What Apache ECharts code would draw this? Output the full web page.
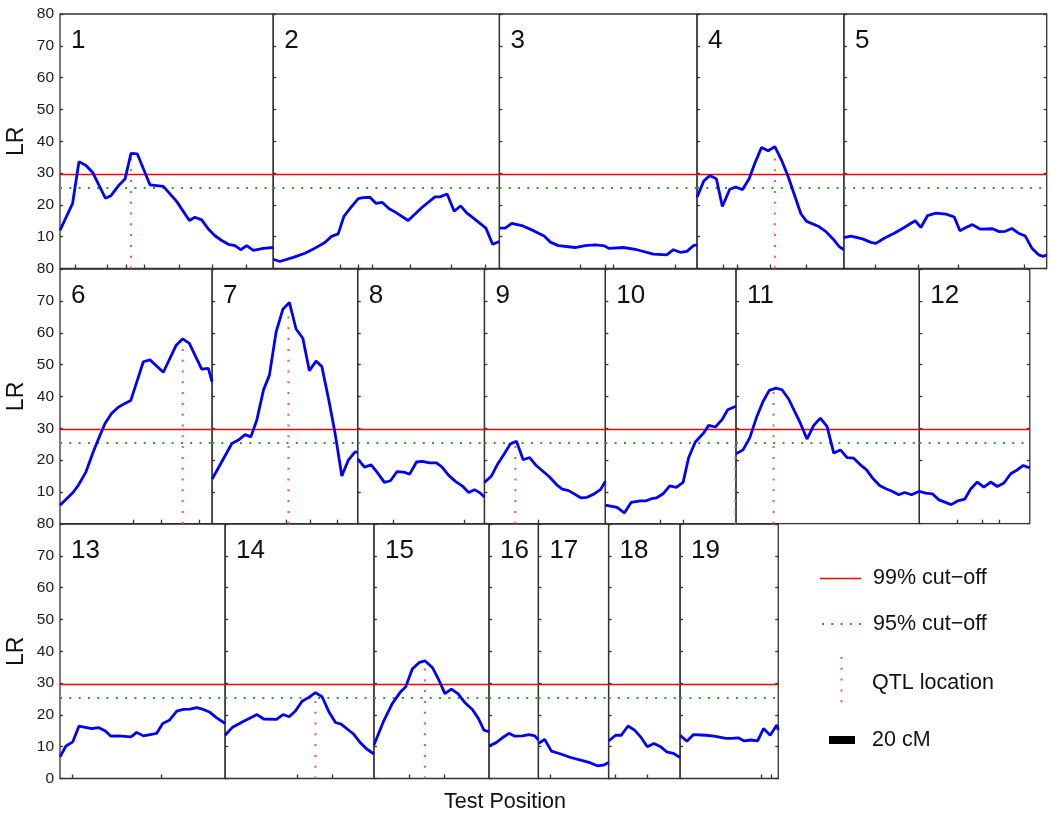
<!DOCTYPE html>
<html><head><meta charset="utf-8">
<script src="https://cdn.jsdelivr.net/npm/echarts@6/dist/echarts.min.js"></script>
<style>html,body{margin:0;padding:0;background:#fff}#c{width:1050px;height:819px}</style>
</head><body><div id="c"></div>
<script>
// ---------------- DATA ----------------
const chromNames = ['1','2','3','4','5','6','7','8','9','10','11','12','13','14','15','16','17','18','19'];
const chromLen = [164,174,152,113,156, 117,112,97.5,93,100.5,141,85, 127,114.5,88.5,38,54,55,75.5]; // cM
const rowChroms = [[0,1,2,3,4],[5,6,7,8,9,10,11],[12,13,14,15,16,17,18]];

const lr1 = [[0,12],[9.7,20.5],[14.6,33.6],[20,32.4],[25.1,30.2],[34.9,22.1],[39.2,22.9],[44.9,26],[50,28.1],[54.6,36.2],[59.5,36],[69.2,26.3],[79.5,25.8],[89.7,21.1],[99.5,15.1],[103.8,16.1],[109,15.3],[114.1,12.4],[119.2,10.3],[124.4,8.8],[129.5,7.6],[134.6,7.2],[139,5.9],[143.6,7.2],[148.7,5.7],[156.4,6.3],[164,6.6]];
const lr2 = [[0,2.9],[5.1,2.2],[15.4,3.5],[24.4,4.8],[32.1,6.4],[39.8,8.2],[44.9,10.1],[50,10.9],[54.4,16.4],[59,18.8],[65.4,22],[69.2,22.3],[74.4,22.4],[79,20.5],[83.8,20.8],[89.2,18.8],[93.6,17.8],[103.8,15.1],[114.2,19.1],[124.4,22.5],[128.2,22.5],[133.8,23.4],[139.2,18],[144.2,19.7],[148.8,17.5],[153.8,15.9],[163.6,12.7],[168.8,7.6],[174,8.5]];
const lr3 = [[0,12.7],[4.4,12.7],[9.5,14.2],[17.2,13.5],[26.2,11.9],[34.4,10.2],[39.5,8.2],[45.4,7.2],[58.2,6.6],[65.9,7.2],[73.6,7.4],[80,7.2],[84.6,6.3],[95.4,6.6],[105.7,5.9],[118.5,4.5],[128.7,4.3],[133.8,5.9],[139,5.1],[144.2,5.4],[149.3,7.2],[152,7.4]];
const lr4 = [[0,22.4],[5.2,27.5],[9.8,29.2],[14.9,28.2],[19.5,19.5],[25.2,24.9],[29.8,25.6],[35,24.8],[40.1,28.2],[44.5,33.1],[49.6,38],[54.7,37],[59.9,38.3],[65,34.1],[70.1,28.9],[79.9,17.2],[84.3,14.8],[93.2,13.3],[99.2,11.6],[104.8,9.2],[109.4,6.9],[113,5.9]];
const lr5 = [[0,9.7],[5.4,10.2],[14.3,9.3],[20.8,8.2],[24.6,7.9],[31,9.5],[38.7,11.1],[46.4,12.9],[54.8,15],[59.2,12.9],[64.3,16.6],[70.8,17.4],[78.5,17.1],[84.9,16.2],[89.2,11.9],[93.8,12.9],[98.9,13.8],[104.6,12.4],[114.3,12.5],[119.5,11.6],[124.1,11.7],[129.2,12.6],[134.3,11.1],[139.5,10.2],[144.6,6.4],[149.8,4.3],[153.4,3.8],[156,4.3]];
const lr6 = [[0,5.8],[9.8,9.7],[14.1,12.1],[20,16.3],[25.6,22.6],[30.8,27.8],[34.6,31.5],[39.8,34.7],[44.8,36.6],[49.2,37.6],[54.4,38.7],[64.1,50.9],[69.2,51.5],[79.5,47.6],[89.2,56],[94.4,58.1],[99.5,56.7],[109,48.6],[114.1,48.8],[117,44.6]];
const lr7 = [[0,14],[4.8,17.5],[15.2,25.2],[20.2,26.3],[25.4,28],[29.8,27.3],[34.4,32.6],[39.5,42],[44.1,46.7],[49.2,60.2],[54.4,67.4],[59.5,69.5],[64.6,61.2],[69.8,58.3],[74.8,48.1],[80,51.1],[84.4,49.4],[89.5,39.4],[94.6,28.4],[99.8,15],[104.8,20],[110,22.6],[112,22.4]];
const lr8 = [[0,20.4],[5.2,17.8],[10.3,18.5],[14.9,16.2],[20.5,13],[25.2,13.5],[30.3,16.4],[35.4,16.2],[40,15.6],[45.2,19.4],[49.6,19.6],[55.4,19.1],[60.6,19.1],[64.9,17.8],[70,15.2],[75.2,13.3],[80.3,11.9],[85.4,9.8],[89.8,10.7],[94.4,9.6],[97.5,8.4]];
const lr9 = [[0,13],[5.2,14.9],[10.2,18.8],[14.8,21.7],[20,25.1],[24.6,25.9],[29.8,20.1],[34.8,20.8],[40,18.2],[49.5,14.9],[55.4,12.3],[59.8,10.9],[64.8,10.4],[74.4,8.1],[79,8.3],[84.1,9.3],[89.2,10.7],[93,13.3]];
const lr10 = [[0,5.8],[9,5.1],[14.6,3.4],[19.8,6.7],[26.9,7.2],[31.5,7.2],[35.9,7.9],[39.2,8.1],[44.4,9.4],[49.5,11.9],[54.6,11.4],[59.8,13],[64.1,20.8],[69.2,25.7],[75.6,28.5],[79.5,30.9],[84.6,30.4],[89.8,32.7],[94.1,35.8],[100.5,36.9]];
const lr11 = [[0,22],[5.4,23.2],[10.5,26.9],[15.6,33.2],[20.8,38.4],[25.6,41.9],[30.8,42.6],[35.4,42.1],[40.5,39.2],[49.5,31.6],[54.6,26.6],[59.8,30.9],[64.9,33.2],[70,30.6],[75.2,22.2],[80.3,23.2],[85.4,20.8],[90.5,20.6],[95.7,18.5],[100.3,17],[105.5,14.1],[110.5,12],[115.7,10.9],[120.1,10.2],[125.2,9.1],[129.8,9.8],[135,9.1],[141,10.2]];
const lr12 = [[0,10.2],[4.8,9.6],[10,9.4],[15.1,7.5],[24.6,6],[29.7,7.2],[34.9,7.7],[39.5,10.9],[44.6,13.1],[49.7,11.5],[54.9,13.1],[60,11.7],[65.1,12.8],[70.3,15.7],[74.9,16.8],[80,18.3],[85,17.5]];
const lr13 = [[0,6.8],[4.6,10.2],[9.8,11.5],[14.6,16.5],[24.4,15.7],[29.5,16],[34.6,15],[39.2,13.3],[44.8,13.4],[54.6,13.1],[59,14.5],[64.1,13.4],[74.4,14.2],[79,17.3],[84.1,18.3],[89.8,21.2],[94.8,21.7],[100,21.8],[105.2,22.3],[110.2,21.7],[115.4,20.8],[120,19.2],[127,17.3]];
const lr14 = [[0,13.6],[5.4,16],[14.3,18],[24.6,20.1],[29.7,18.7],[39.5,18.6],[44.6,20.1],[49.3,19.4],[54.1,21.2],[59.2,24.3],[64.4,25.5],[69.5,27],[74.6,25.7],[79.8,21],[84.9,17.6],[89.3,17.1],[94.4,15.4],[99,13.9],[104.1,11.2],[109.2,9.2],[114.5,7.7]];
const lr15 = [[0,10.5],[7.7,18.3],[14.2,23.6],[20,27],[24.4,28.8],[29.5,34.4],[34.6,36.4],[39.2,37],[44.9,34.9],[50,30.9],[54.6,26.7],[59.5,28.1],[64.6,26.7],[69.8,23.9],[75.7,21.7],[80.3,18.9],[84.6,15.2],[88.5,14.7]];
const lr16 = [[0,10.2],[5.2,11.2],[10.3,12.8],[15.4,14.2],[19.8,13.3],[25.7,13.4],[30.8,13.8],[35.2,13.4],[38,12.1]];
const lr17 = [[0,11],[4.8,12.3],[10,8.6],[17.2,7.7],[24.8,6.6],[32.5,5.8],[40.2,4.9],[45.3,4],[49.9,4.2],[54,5]];
const lr18 = [[0,11.8],[5.4,13.6],[9.8,13.6],[14.9,16.5],[20,15.2],[24.6,13.1],[29.8,10],[34.9,11],[40,10],[44.6,8.4],[49.8,7.9],[55,6.6]];
const lr19 = [[0,13.6],[5.2,11.7],[10.3,13.8],[19.8,13.6],[26.2,13.3],[35.2,12.6],[39.6,12.6],[44.7,12.8],[49.3,11.8],[54.5,12.1],[59.6,11.8],[64.2,15.7],[69.3,13.6],[74.4,16.8],[75.5,15.2]];
const lrData = [lr1,lr2,lr3,lr4,lr5,lr6,lr7,lr8,lr9,lr10,lr11,lr12,lr13,lr14,lr15,lr16,lr17,lr18,lr19];

// marker positions (ticks on the bottom of each panel), cM
const markerPos = [
  [11.5,36.4,51.3,64.6,91.5,116.9,143.6],[51.3,65.4,76.5,105.2,137.2,162.8],[62.1,81.3,87.2,135.2],[20,30.8,56.7,84.2],[23.8,57.2,88.2,138.7],
  [56.4,77.5,107.2],[57.4,75.4,95.9],[27.7,82.1],[41.1],[42.3,60.3],[],[29.2,48.5,61.3],
  [9.7,78.2],[55.4,82.3],[26.9,54.4],[],[8.9],[5.4,29.8],[62.1,70.3]
];

const qtlChrom  = [1, 4, 6, 7, 9, 10, 11, 14, 15];
const qtlPos    = [54.6, 59.9, 94.4, 58.7, 23.8, 100, 28.9, 69.5, 39.2];
const qtlHeight = [36, 37.5, 57, 68, 25.5, 27, 42, 27, 37];

const cut99 = 29.7, cut95 = 25.5;
const yMin = 0, yMax = 80, yStep = 10;
const legendLabels = ['99% cut\u2212off', '95% cut\u2212off', 'QTL location', '20 cM'];
const scaleBarCM = 20;
const xTitle = 'Test Position', yTitle = 'LR';

// ---------------- LAYOUT ----------------
const PX = 1.3, X0 = 60, ROW_TOP = [14, 269.2, 524], ROW_H = 254.5;
const FONT = 'Liberation Sans, Arial, Helvetica, sans-serif';
const BLUE = '#0000ff', RED = '#ff0000', GREEN = '#2e9e2e', QRED = '#ff5050', AX = '#333';

const grid = [], xAxis = [], yAxis = [], series = [], title = [];
rowChroms.forEach((row, r) => {
  let cum = 0;
  row.forEach((ci, k) => {
    const left = X0 + cum * PX, width = chromLen[ci] * PX;
    cum += chromLen[ci];
    grid.push({ left, top: ROW_TOP[r], width, height: ROW_H, show: true, borderColor: AX, borderWidth: 1.3, backgroundColor: 'transparent' });
    const gi = grid.length - 1;
    title.push({ text: chromNames[ci], left: left + 6, top: ROW_TOP[r] + 9, textStyle: { fontFamily: FONT, fontSize: 26, fontWeight: 'normal', color: '#111' } });
    xAxis.push({
      type: 'value', gridIndex: gi, min: 0, max: chromLen[ci],
      axisLine: { show: false }, splitLine: { show: false }, axisLabel: { show: false },
      axisTick: { show: markerPos[ci].length > 0, inside: true, length: 4, customValues: markerPos[ci], lineStyle: { color: AX, width: 1.3 } }
    });
    yAxis.push({
      type: 'value', gridIndex: gi, min: yMin, max: yMax, interval: yStep, position: 'left',
      axisLine: { show: false }, splitLine: { show: false },
      axisTick: { show: true, inside: true, length: 3, lineStyle: { color: AX, width: 1.3 } },
      axisLabel: { show: k === 0, showMinLabel: r === 2, margin: 6, fontSize: 15.5, fontFamily: FONT, color: '#1a1a1a' },
      name: k === 0 ? yTitle : '', nameLocation: 'middle', nameGap: 32, nameRotate: 90,
      nameTextStyle: { fontSize: 23, fontFamily: FONT, color: '#111' }
    });
    const yi = yAxis.length - 1;
    if (k === row.length - 1) {
      yAxis.push({
        type: 'value', gridIndex: gi, min: yMin, max: yMax, interval: yStep, position: 'right',
        axisLine: { show: false }, splitLine: { show: false }, axisLabel: { show: false },
        axisTick: { show: true, inside: true, length: 3, lineStyle: { color: AX, width: 1.3 } }
      });
    }
    series.push({
      type: 'line', xAxisIndex: gi, yAxisIndex: yi, data: lrData[ci], showSymbol: false, silent: true,
      lineStyle: { color: BLUE, width: 2.8 }, z: 4,
      markLine: {
        silent: true, symbol: 'none', label: { show: false }, animation: false, z: 3,
        data: [
          { yAxis: cut99, lineStyle: { color: RED, width: 1.4, type: 'solid' } },
          { yAxis: cut95, lineStyle: { color: GREEN, width: 2, type: [2, 7.3] } }
        ]
      }
    });
    const qi = qtlChrom.indexOf(ci + 1);
    if (qi >= 0) {
      series.push({
        type: 'line', xAxisIndex: gi, yAxisIndex: yi, showSymbol: false, silent: true, z: 3,
        data: [[qtlPos[qi], 0], [qtlPos[qi], qtlHeight[qi]]],
        lineStyle: { color: QRED, width: 2, type: [2, 8.8] }
      });
    }
  });
});

// legend drawn as graphics
const LX = 820, LT = 873;
const graphic = [
  { type: 'line', shape: { x1: LX, y1: 578.5, x2: LX + 41, y2: 578.5 }, style: { stroke: RED, lineWidth: 1.4 } },
  { type: 'line', shape: { x1: LX + 2, y1: 624, x2: LX + 44, y2: 624 }, style: { stroke: GREEN, lineWidth: 2, lineDash: [2, 7.3] } },
  { type: 'line', shape: { x1: 841.5, y1: 657, x2: 841.5, y2: 704 }, style: { stroke: QRED, lineWidth: 2, lineDash: [2, 8.8] } },
  { type: 'rect', shape: { x: 829, y: 736, width: scaleBarCM * PX, height: 8 }, style: { fill: '#000' } },
  { type: 'text', x: LT, y: 578, style: { text: legendLabels[0], font: '21.5px ' + FONT, fill: '#111', textVerticalAlign: 'middle' } },
  { type: 'text', x: LT, y: 624, style: { text: legendLabels[1], font: '21.5px ' + FONT, fill: '#111', textVerticalAlign: 'middle' } },
  { type: 'text', x: LT - 1, y: 683, style: { text: legendLabels[2], font: '21.5px ' + FONT, fill: '#111', textVerticalAlign: 'middle' } },
  { type: 'text', x: LT - 1, y: 740, style: { text: legendLabels[3], font: '21.5px ' + FONT, fill: '#111', textVerticalAlign: 'middle' } },
  { type: 'text', x: 505, y: 802, style: { text: xTitle, font: '21.5px ' + FONT, fill: '#111', textAlign: 'center', textVerticalAlign: 'middle' } }
];

const chart = echarts.init(document.getElementById('c'), null, { renderer: 'canvas' });
chart.setOption({ animation: false, backgroundColor: '#fff', title, grid, xAxis, yAxis, series, graphic });
</script></body></html>
